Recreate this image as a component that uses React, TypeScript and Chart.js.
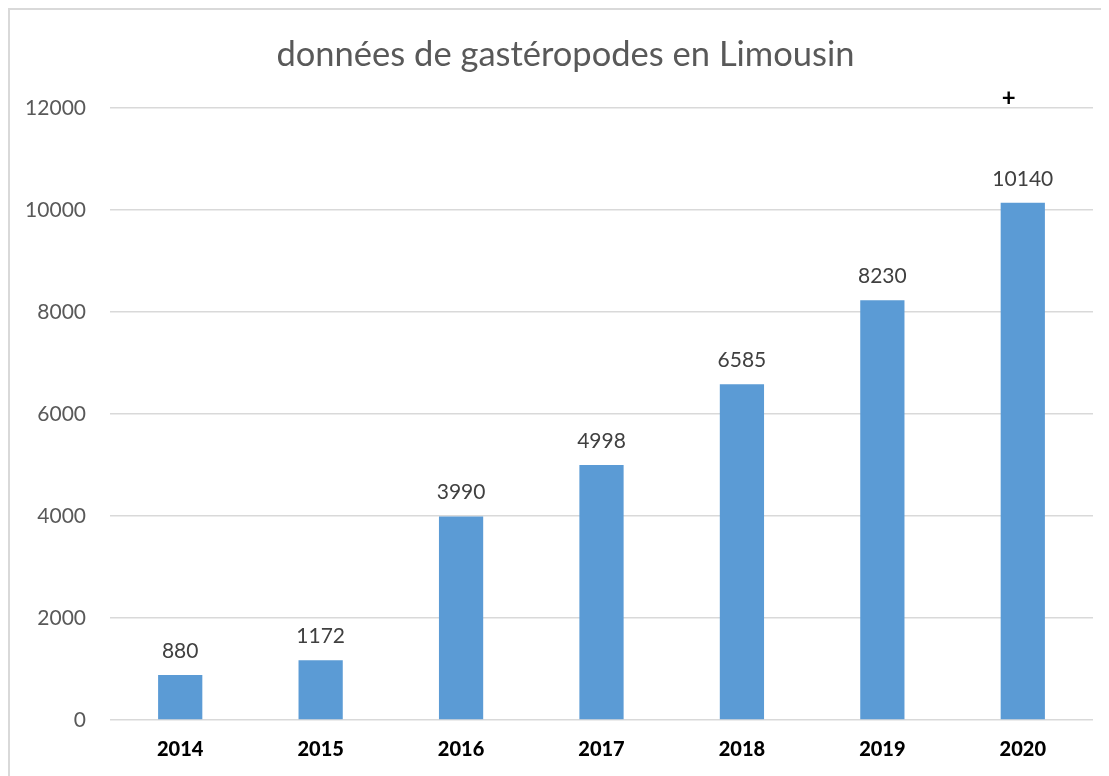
import React, { useEffect, useRef } from "react";
import { Chart, registerables } from "chart.js";

Chart.register(...registerables);

const TITLE = "données de gastéropodes en Limousin";
const YEARS = ["2014", "2015", "2016", "2017", "2018", "2019", "2020"];
const VALUES = [880, 1172, 3990, 4998, 6585, 8230, 10140];
const Y_TICKS = [0, 2000, 4000, 6000, 8000, 10000, 12000];
const ANNOTATION = "+";
const ANNOTATION_INDEX = 6;

const FONT = "Lato, 'Open Sans', sans-serif";

const labelsPlugin = {
  id: "valueLabels",
  afterDatasetsDraw(chart: any) {
    const ctx = chart.ctx;
    const meta = chart.getDatasetMeta(0);
    ctx.save();
    // title, centred on the chart box (slightly right of canvas centre like the reference)
    ctx.font = `34.5px ${FONT}`;
    ctx.fillStyle = "#595959";
    ctx.textAlign = "center";
    ctx.textBaseline = "middle";
    const area = chart.chartArea;
    ctx.fillText(TITLE, (area.right + 28) / 2, area.top - 53);

    ctx.font = `21px ${FONT}`;
    ctx.fillStyle = "#404040";
    meta.data.forEach((bar: any, i: number) => {
      ctx.fillText(String(VALUES[i]), bar.x, bar.y - 24);
    });
    const xs = chart.scales.x;
    const ys = chart.scales.y;
    ctx.font = `bold 24px ${FONT}`;
    ctx.fillStyle = "#000000";
    ctx.fillText(
      ANNOTATION,
      xs.getPixelForValue(ANNOTATION_INDEX) - 14,
      ys.getPixelForValue(Y_TICKS[Y_TICKS.length - 1]) - 10
    );
    ctx.restore();
  },
};

export default function App() {
  const ref = useRef<HTMLCanvasElement | null>(null);
  useEffect(() => {
    if (!ref.current) return;
    const chart = new Chart(ref.current, {
      type: "bar",
      data: {
        labels: YEARS,
        datasets: [
          {
            data: VALUES,
            backgroundColor: "#5B9BD5",
            borderWidth: 0,
            categoryPercentage: 1,
            barPercentage: 0.315,
          },
        ],
      },
      options: {
        animation: false,
        responsive: true,
        maintainAspectRatio: false,
        layout: { padding: { left: 0, right: 16, top: 98, bottom: 0 } },
        plugins: {
          legend: { display: false },
          tooltip: { enabled: false },
          title: { display: false },
        },
        scales: {
          x: {
            grid: { display: false, drawTicks: false },
            border: { display: false },
            ticks: {
              color: "#000000",
              font: { family: FONT, size: 20, weight: "900" as any },
              padding: 18,
            },
            afterFit: (s: any) => {
              s.height = 56;
            },
          },
          y: {
            min: 0,
            max: 12000,
            afterBuildTicks: (s: any) => {
              s.ticks = Y_TICKS.map((v) => ({ value: v }));
            },
            grid: { color: "#d9d9d9", lineWidth: 1.5, drawTicks: false },
            border: { display: false },
            ticks: {
              color: "#595959",
              font: { family: FONT, size: 21 },
              padding: 24,
              callback: (v: any) => String(v),
            },
            afterFit: (s: any) => {
              s.width = 100;
            },
          },
        },
      },
      plugins: [labelsPlugin],
    });
    return () => chart.destroy();
  }, []);
  return (
    <div
      style={{
        position: "relative",
        width: 1101,
        height: 768,
        borderTop: "2px solid #d9d9d9",
        borderLeft: "2px solid #d9d9d9",
        boxSizing: "border-box",
        background: "#fff",
      }}
    >
      <canvas ref={ref} />
    </div>
  );
}
